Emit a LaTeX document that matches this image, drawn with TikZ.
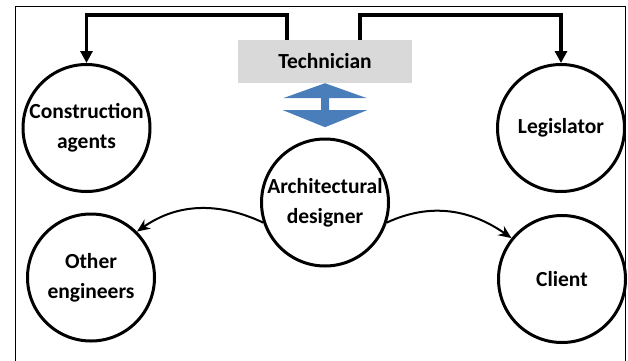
\documentclass[tikz,border=0pt]{standalone}
\usepackage{fontspec}
\setmainfont{Carlito}
\usetikzlibrary{arrows.meta,calc}
\definecolor{techgray}{HTML}{D9D9D9}
\definecolor{flowblue}{HTML}{4A7EBB}
\tikzset{
	actor/.style={circle, draw, line width=3pt, minimum size=127pt, inner sep=0pt, align=center, font=\fontsize{21.5}{30}\selectfont\bfseries},
	techbox/.style={rectangle, fill=techgray, minimum width=174pt, minimum height=43pt, font=\fontsize{21.5}{26}\selectfont\bfseries},
	orders/.style={line width=3.5pt, -{Triangle[length=12pt,width=12pt]}},
	talks/.style={line width=2pt, -{Stealth[length=13pt,width=11pt]}}
}

\begin{document}
\begin{tikzpicture}[x=1pt, y=1pt]
			%%%%% START %%%%%
			
			\useasboundingbox (0, 0) rectangle (628, 360);
			\draw[line width=1pt] (15, -5) -- (15, 354) -- (625, 354) -- (625, -5);
			
			\node[techbox] (tech) at (325, 298.5) {Technician};
			
			\node[actor] (cons) at (86.5, 232) {Construction\\agents};
			\node[actor] (legis) at (561, 232) {Legislator};
			\node[actor] (arch) at (325, 157.5) {Architectural\\designer};
			\node[actor] (oeng) at (91, 82.5) {Other\\engineers};
			\node[actor] (client) at (562, 81) {Client};
			
			\coordinate (topL) at (287, 345);
			\coordinate (topR) at (360, 345);
			\draw[orders] (tech.north -| topL) -- (topL) -| (cons.north);
			\draw[orders] (tech.north -| topR) -- (topR) -| (legis.north);
			
			\begin{scope}[shift={(tech.south)}]
				\fill[flowblue] (0, 0) -- (42, -15) -- (4, -15) -- (4, -27) -- (42, -27) -- (0, -44) -- (-42, -27) -- (-4, -27) -- (-4, -15) -- (-42, -15) -- cycle;
			\end{scope}
			
			\draw[talks] (arch.198) to[out=155, in=35] (oeng.45);
			\draw[talks] (arch.342) to[out=25, in=145] (client.141);
			
			%%%%% END %%%%%
\end{tikzpicture}
\end{document}
